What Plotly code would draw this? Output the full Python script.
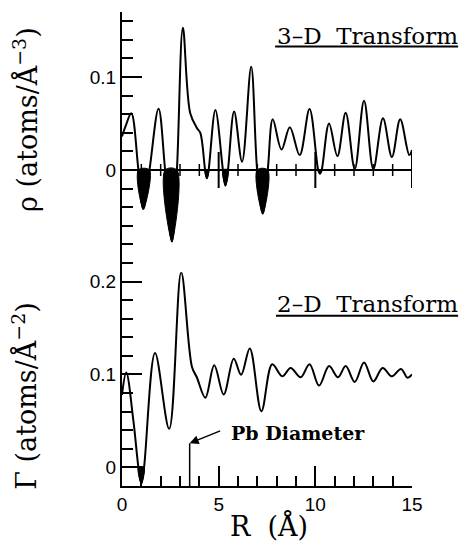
import plotly.graph_objects as go

# ---- data ----
# 3-D transform  rho(R)  (atoms / A^-3)
R_3D = [0.0, 0.2, 0.48, 0.85, 1.1, 1.42, 1.89, 2.23, 2.58, 2.84, 3.15, 3.53, 3.88, 4.05,
        4.30, 4.39, 4.48, 4.83, 5.22, 5.35, 5.48, 5.8, 6.21, 6.68, 6.99, 7.28, 7.54, 7.8,
        8.25, 8.68, 9.19, 9.7, 10.15, 10.24, 10.33, 10.71, 11.14, 11.57, 12.04, 12.52,
        13.0, 13.5, 13.96, 14.39, 14.86, 15.0]
RHO_3D = [0.036, 0.048, 0.061, 0.0, -0.042, 0.0, 0.066, 0.0, -0.077, 0.0, 0.153, 0.061, 0.045, 0.040,
          0.0, -0.009, 0.0, 0.0645, 0.0, -0.017, 0.0, 0.063, 0.009, 0.111, 0.0, -0.047, 0.0, 0.0545,
          0.022, 0.046, 0.016, 0.0656, 0.0, -0.004, 0.0, 0.050, 0.015, 0.0616, 0.001, 0.0745,
          0.001, 0.0556, 0.014, 0.0545, 0.016, 0.0215]

# 2-D transform  Gamma(R)  (atoms / A^-2)
R_2D = [0.0, 0.22, 0.59, 0.85, 1.0, 1.14, 1.71, 2.44, 3.06, 3.62, 3.87, 4.31, 4.77, 5.26,
        5.78, 6.16, 6.61, 7.21, 7.77, 8.29, 8.72, 9.24, 9.7, 10.19, 10.71, 11.17, 11.57,
        12.04, 12.52, 13.0, 13.48, 13.96, 14.43, 14.77, 15.0]
GAM_2D = [0.078, 0.102, 0.05, 0.0, -0.0175, 0.0, 0.123, 0.0415, 0.21, 0.108, 0.097, 0.075, 0.11, 0.0785,
          0.117, 0.0997, 0.128, 0.0605, 0.111, 0.098, 0.107, 0.097, 0.111, 0.088, 0.109, 0.097, 0.109,
          0.092, 0.113, 0.0925, 0.107, 0.098, 0.106, 0.0965, 0.100]

PB_R = 3.5          # Pb diameter marker position
PB_H = 0.026        # height of marker line

X_MAJOR = [5, 10, 15]
X_MINOR = [1, 2, 3, 4, 6, 7, 8, 9, 11, 12, 13, 14]
TOP_YMAJOR = [0, 0.1]
TOP_YLABELS = ["0", "0.1"]
BOT_YMAJOR = [0, 0.1, 0.2]
BOT_YLABELS = ["0", "0.1", "0.2"]
TOP_YMINOR = [-0.1, -0.08, -0.06, -0.04, -0.02, 0.02, 0.04, 0.06, 0.08, 0.12, 0.14, 0.16]
BOT_YMINOR = [0.02, 0.04, 0.06, 0.08, 0.12, 0.14, 0.16, 0.18]


def negative_lobes(xs, ys):
    """Collect runs of points with y<=0 (bounded by the zero crossings)."""
    lx, ly = [], []
    run_x, run_y = [], []
    for x, y in zip(xs, ys):
        if y <= 0:
            run_x.append(x)
            run_y.append(y)
        else:
            if len(run_x) >= 3:
                lx += run_x + [run_x[0], None]
                ly += run_y + [0.0, None]
            run_x, run_y = [], []
    if len(run_x) >= 3:
        lx += run_x + [run_x[0], None]
        ly += run_y + [0.0, None]
    return lx, ly


fig = go.Figure()

lx, ly = negative_lobes(R_3D, RHO_3D)
fig.add_trace(go.Scatter(x=lx, y=ly, mode="lines", line=dict(color="black", width=1, shape="spline"),
                         fill="toself", fillcolor="black", xaxis="x2", yaxis="y2", hoverinfo="skip"))
fig.add_trace(go.Scatter(x=R_3D, y=RHO_3D, mode="lines", line=dict(color="black", width=2, shape="spline"),
                         xaxis="x2", yaxis="y2"))

lx, ly = negative_lobes(R_2D, GAM_2D)
fig.add_trace(go.Scatter(x=lx, y=ly, mode="lines", line=dict(color="black", width=1, shape="spline"),
                         fill="toself", fillcolor="black", xaxis="x", yaxis="y", hoverinfo="skip"))
fig.add_trace(go.Scatter(x=R_2D, y=GAM_2D, mode="lines", line=dict(color="black", width=2, shape="spline"),
                         xaxis="x", yaxis="y"))

shapes = []
# tick marks of the top panel's axis drawn along rho = 0
for xv in X_MAJOR:
    shapes.append(dict(type="line", xref="x2", yref="y2", x0=xv, x1=xv, ysizemode="pixel", yanchor=0,
                       y0=-18, y1=18, line=dict(color="black", width=2)))
for xv in X_MINOR:
    shapes.append(dict(type="line", xref="x2", yref="y2", x0=xv, x1=xv, ysizemode="pixel", yanchor=0,
                       y0=-6, y1=6, line=dict(color="black", width=1.5)))
# Pb diameter marker
shapes.append(dict(type="line", xref="x", yref="y", x0=PB_R, x1=PB_R, y0=-0.02, y1=PB_H,
                   line=dict(color="black", width=1.5)))
# underlines of the panel captions
shapes.append(dict(type="line", xref="paper", yref="paper", x0=0.528, x1=1.159, y0=0.927, y1=0.927,
                   line=dict(color="black", width=2)))
shapes.append(dict(type="line", xref="paper", yref="paper", x0=0.531, x1=1.159, y0=0.359, y1=0.359,
                   line=dict(color="black", width=2)))

serif = "DejaVu Serif"
NB = "\u00a0"
annotations = [
    dict(text="3\u2013D" + NB + NB + "Transform", xref="paper", yref="paper", x=0.526, y=0.949,
         xanchor="left", yanchor="middle", showarrow=False,
         font=dict(family=serif, size=23, color="black")),
    dict(text="2\u2013D" + NB + NB + "Transform", xref="paper", yref="paper", x=0.529, y=0.384,
         xanchor="left", yanchor="middle", showarrow=False,
         font=dict(family=serif, size=23, color="black")),
    dict(text="<b>Pb" + NB + "Diameter</b>", xref="x", yref="y", x=5.55, y=0.037, xanchor="left",
         yanchor="middle", showarrow=False, font=dict(family=serif, size=19, color="black")),
    dict(text="", xref="x", yref="y", x=PB_R, y=PB_H, ax=32, ay=-13, showarrow=True,
         arrowhead=2, arrowsize=1.2, arrowwidth=1.5, arrowcolor="black", standoff=0),
    dict(text="\u03c1" + NB + "(atoms/\u00c5<sup>\u22123</sup>)", xref="paper", yref="paper",
         x=-0.335, y=0.774, xanchor="center", yanchor="middle", textangle=-90, showarrow=False,
         font=dict(family=serif, size=27, color="black")),
    dict(text="\u0393" + NB + "(atoms/\u00c5<sup>\u22122</sup>)", xref="paper", yref="paper",
         x=-0.335, y=0.19, xanchor="center", yanchor="middle", textangle=-90, showarrow=False,
         font=dict(family=serif, size=27, color="black")),
    dict(text="R" + NB + NB + "(\u00c5)", xref="paper", yref="paper", x=0.507, y=-0.084,
         xanchor="center", yanchor="middle", showarrow=False,
         font=dict(family=serif, size=27, color="black")),
]

tickfont = dict(family="Liberation Sans", size=19, color="black")
fig.update_layout(
    width=461, height=542,
    margin=dict(l=122, r=49, t=12, b=56),
    paper_bgcolor="white", plot_bgcolor="white",
    showlegend=False,
    shapes=shapes, annotations=annotations,
    xaxis=dict(domain=[0, 1], range=[0, 15], anchor="y", showline=True, linecolor="black", linewidth=2,
               ticks="inside", ticklen=20, tickwidth=2, tickcolor="black", tickmode="array",
               tickvals=[0, 5, 10, 15], ticktext=["0", "5", "10", "15"], tickfont=tickfont,
               minor=dict(tickmode="array", tickvals=X_MINOR, ticks="inside", ticklen=10, tickwidth=1.5,
                          tickcolor="black"),
               showgrid=False, zeroline=False),
    xaxis2=dict(domain=[0, 1], range=[0, 15], anchor="y2", matches="x", showline=False, ticks="",
                showticklabels=False, showgrid=False, zeroline=False),
    yaxis=dict(domain=[0, 0.451], range=[-0.02, 0.21], anchor="x", showline=True, linecolor="black",
               linewidth=2, ticks="inside", ticklen=20, tickwidth=2, tickcolor="black", tickmode="array",
               tickvals=BOT_YMAJOR, ticktext=BOT_YLABELS, tickfont=tickfont,
               minor=dict(tickmode="array", tickvals=BOT_YMINOR, ticks="inside", ticklen=11, tickwidth=1.5,
                          tickcolor="black"),
               showgrid=False, zeroline=False),
    yaxis2=dict(domain=[0.451, 1], range=[-0.11, 0.17], anchor="x2", showline=True, linecolor="black",
                linewidth=2, ticks="inside", ticklen=20, tickwidth=2, tickcolor="black", tickmode="array",
                tickvals=TOP_YMAJOR, ticktext=TOP_YLABELS, tickfont=tickfont,
                minor=dict(tickmode="array", tickvals=TOP_YMINOR, ticks="inside", ticklen=11, tickwidth=1.5,
                           tickcolor="black"),
                showgrid=False, zeroline=True, zerolinecolor="black", zerolinewidth=2),
)

fig.write_html("out.html", config={"displayModeBar": False},
               post_script="document.body.style.margin='0px';")
